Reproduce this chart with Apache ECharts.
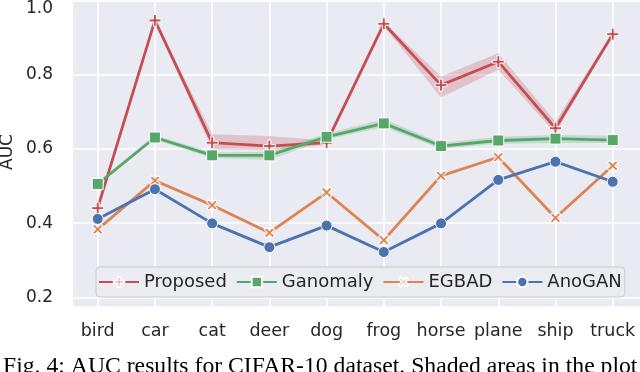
<!DOCTYPE html>
<html>
<head>
<meta charset="utf-8">
<script src="https://cdn.jsdelivr.net/npm/echarts@6/dist/echarts.min.js"></script>
<style>html,body{margin:0;padding:0;background:#fff;}#c{width:640px;height:372px;}</style>
</head>
<body>
<div id="c"></div>
<script>
const categories = ['bird','car','cat','deer','dog','frog','horse','plane','ship','truck'];
const proposed     = [0.440, 0.945, 0.616, 0.607, 0.616, 0.936, 0.771, 0.834, 0.655, 0.908];
const proposedLow  = [0.435, 0.940, 0.598, 0.596, 0.610, 0.930, 0.738, 0.812, 0.641, 0.903];
const proposedHigh = [0.445, 0.950, 0.639, 0.634, 0.622, 0.942, 0.794, 0.857, 0.673, 0.913];
const ganomaly     = [0.505, 0.630, 0.582, 0.582, 0.632, 0.668, 0.607, 0.622, 0.627, 0.623];
const ganomalyLow  = [0.500, 0.625, 0.575, 0.570, 0.625, 0.658, 0.600, 0.613, 0.615, 0.615];
const ganomalyHigh = [0.510, 0.636, 0.590, 0.592, 0.640, 0.680, 0.615, 0.632, 0.637, 0.635];
const egbad        = [0.383, 0.514, 0.448, 0.374, 0.482, 0.354, 0.527, 0.577, 0.414, 0.554];
const anogan       = [0.411, 0.491, 0.399, 0.335, 0.393, 0.322, 0.399, 0.516, 0.565, 0.511];
const seriesNames = ['Proposed','Ganomaly','EGBAD','AnoGAN'];
const yTitle = 'AUC';
const caption = 'Fig. 4: AUC results for CIFAR-10 dataset. Shaded areas in the plot';

const RED = '#C44E52', GREEN = '#55A868', ORANGE = '#DD8452', BLUE = '#4C72B0';
const TXT = '#262626';
const FONT = 'DejaVu Sans';
const YMIN = 0.174, YMAX = 1.0;
const PLUS = 'path://M-1.2,-5 L1.2,-5 L1.2,-1.2 L5,-1.2 L5,1.2 L1.2,1.2 L1.2,5 L-1.2,5 L-1.2,1.2 L-5,1.2 L-5,-1.2 L-1.2,-1.2 Z';

function diff(hi, lo){ return hi.map((v,i)=>+(v-lo[i]).toFixed(4)); }

function lineSeries(name, data, color, symbol, size, rotate){
  return {
    name, type:'line', data, xAxisIndex:1, yAxisIndex:1, z:5,
    symbol, symbolSize:size, symbolRotate:rotate||0, showSymbol:true, showAllSymbol:true,
    lineStyle:{color, width:2.8},
    itemStyle:{color, borderColor:'#ffffff', borderWidth:1},
    emphasis:{disabled:true}
  };
}
function band(stack, lo, hi, color){
  return [
    {type:'line', data:lo, stack, xAxisIndex:1, yAxisIndex:1, symbol:'none', z:2,
     lineStyle:{opacity:0}, silent:true, emphasis:{disabled:true}},
    {type:'line', data:diff(hi,lo), stack, xAxisIndex:1, yAxisIndex:1, symbol:'none', z:2,
     lineStyle:{opacity:0}, areaStyle:{color, opacity:0.25}, silent:true, emphasis:{disabled:true}}
  ];
}

const chart = echarts.init(document.getElementById('c'), null, {renderer:'canvas'});
chart.setOption({
  animation:false,
  backgroundColor:'#ffffff',
  textStyle:{fontFamily:FONT},
  grid:[
    {left:73, right:0, top:0, bottom:65, show:true, backgroundColor:'#EAEAF2', borderWidth:0},
    {left:97.7, right:27.3, top:0, bottom:65, show:false}
  ],
  xAxis:[
    {type:'value', gridIndex:0, min:0, max:1, show:false},
    {type:'category', gridIndex:1, data:categories, boundaryGap:false,
     axisLine:{show:false}, axisTick:{show:false},
     axisLabel:{color:TXT, fontSize:17.5, fontFamily:FONT, margin:15, interval:0},
     splitLine:{show:true, lineStyle:{color:'#ffffff', width:1.5}}}
  ],
  yAxis:[
    {type:'value', gridIndex:0, min:YMIN, max:YMAX, splitNumber:4,
     axisLine:{show:false}, axisTick:{show:false},
     axisLabel:{color:TXT, fontSize:17, fontFamily:FONT, margin:20, showMinLabel:false, showMaxLabel:true,
       formatter:v => (v >= 0.999 ? '{t|' + v.toFixed(1) + '}' : (v < 0.19 ? '' : v.toFixed(1))),
       rich:{t:{color:TXT, fontSize:17, fontFamily:FONT, padding:[16,0,0,0]}}},
     splitLine:{show:true, lineStyle:{color:'#ffffff', width:1.5}}},
    {type:'value', gridIndex:1, min:YMIN, max:YMAX, show:false, splitLine:{show:false}}
  ],
  legend:{
    data:seriesNames, left:96, top:267, orient:'horizontal',
    itemWidth:40, itemHeight:13, itemGap:9, padding:[6,3,6,2],
    backgroundColor:'#EBEBF2', borderColor:'#CCCCCC', borderWidth:1, borderRadius:4,
    textStyle:{color:TXT, fontSize:18, fontFamily:FONT}
  },
  graphic:[
    {type:'text', x:8, y:152, rotation:Math.PI/2,
     style:{text:yTitle, fill:TXT, font:'17px "DejaVu Sans"', align:'center', verticalAlign:'middle'}},
    {type:'text', left:3, top:355,
     style:{text:caption, fill:'#000000', font:'23.7px "Liberation Serif"'}}
  ],
  series:[
    ...band('pb', proposedLow, proposedHigh, RED),
    ...band('gb', ganomalyLow, ganomalyHigh, GREEN),
    lineSeries('Proposed', proposed, RED, PLUS, 12, 0),
    lineSeries('Ganomaly', ganomaly, GREEN, 'rect', 11, 0),
    lineSeries('EGBAD', egbad, ORANGE, PLUS, 12, 45),
    lineSeries('AnoGAN', anogan, BLUE, 'circle', 11, 0)
  ]
});
</script>
</body>
</html>
